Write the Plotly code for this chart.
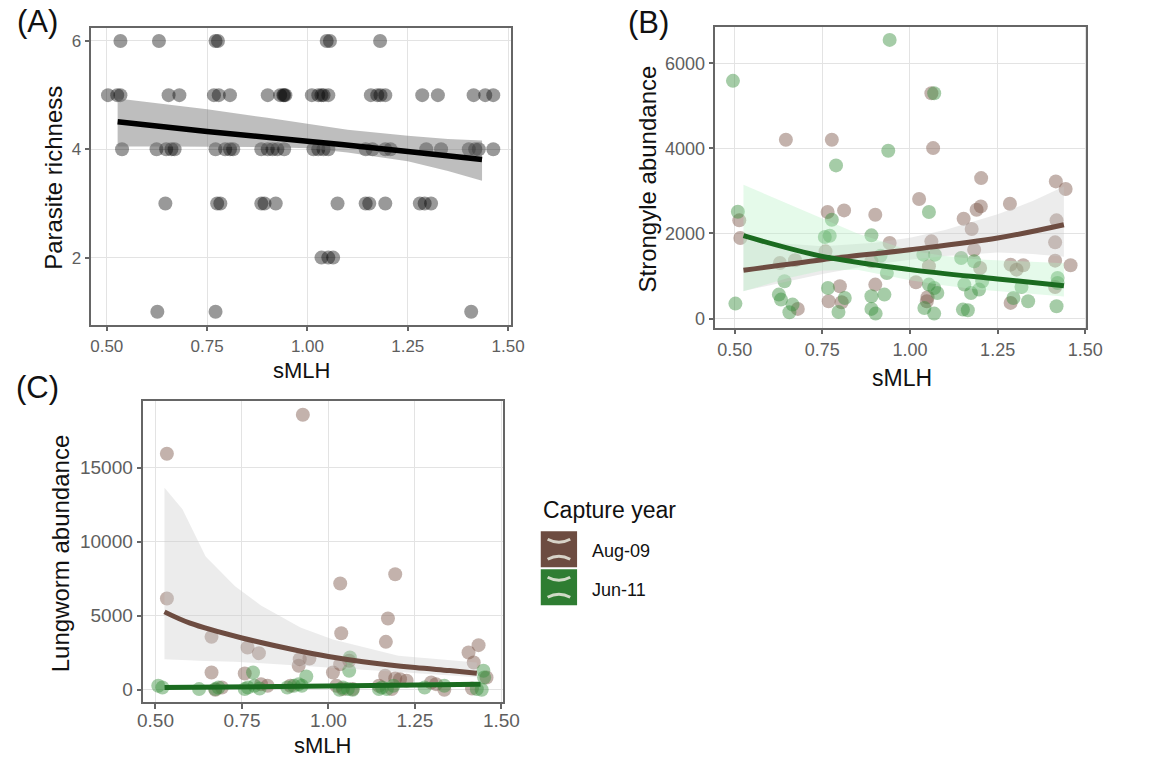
import plotly.graph_objects as go

W, H = 1172, 761

# ---------------- Panel A data ----------------
A_x = [0.534, 0.630, 0.771, 0.777, 1.048, 1.056, 1.181,
       0.503, 0.526, 0.534, 0.654, 0.681, 0.767, 0.779, 0.807, 0.901, 0.932, 0.940, 0.942, 0.945,
       1.011, 1.027, 1.035, 1.040, 1.052, 1.158, 1.174, 1.182, 1.194, 1.286, 1.325, 1.414, 1.443, 1.463,
       0.538, 0.624, 0.648, 0.661, 0.669, 0.771, 0.795, 0.807, 0.815, 0.885, 0.901, 0.913, 0.925, 0.942,
       1.015, 1.027, 1.040, 1.052, 1.145, 1.162, 1.194, 1.207, 1.296, 1.333, 1.402, 1.418, 1.427, 1.463,
       0.646, 0.775, 0.783, 0.885, 0.893, 0.921, 1.075, 1.145, 1.154, 1.194, 1.280, 1.292, 1.308,
       1.035, 1.052, 1.064,
       0.626, 0.771, 1.408]
A_y = [6, 6, 6, 6, 6, 6, 6,
       5, 5, 5, 5, 5, 5, 5, 5, 5, 5, 5, 5, 5,
       5, 5, 5, 5, 5, 5, 5, 5, 5, 5, 5, 5, 5, 5,
       4, 4, 4, 4, 4, 4, 4, 4, 4, 4, 4, 4, 4, 4,
       4, 4, 4, 4, 4, 4, 4, 4, 4, 4, 4, 4, 4, 4,
       3, 3, 3, 3, 3, 3, 3, 3, 3, 3, 3, 3, 3,
       2, 2, 2,
       1, 1, 1]
A_fit_x = [0.527, 0.75, 1.0, 1.25, 1.435]
A_fit_y = [4.51, 4.33, 4.15, 3.96, 3.81]
A_band_x = [0.527, 0.65, 0.75, 0.9, 1.0, 1.1, 1.25, 1.35, 1.435]
A_hi = [4.94, 4.83, 4.74, 4.58, 4.47, 4.36, 4.25, 4.19, 4.16]
A_lo = [4.05, 4.05, 4.05, 4.04, 4.02, 3.94, 3.78, 3.60, 3.42]

# ---------------- Panel B data ----------------
B_aug_x = [0.646, 0.777, 1.066, 1.061, 0.513, 0.516, 0.629, 0.672, 0.680, 0.765, 0.812, 0.759, 0.768,
           0.800, 0.805, 0.901, 0.890, 0.901, 0.942, 1.026, 1.017, 1.061, 1.054, 1.050, 1.048,
           1.153, 1.176, 1.183, 1.190, 1.202, 1.203, 1.200, 1.285, 1.287, 1.287, 1.304, 1.323,
           1.416, 1.444, 1.418, 1.414, 1.414, 1.414, 1.458]
B_aug_y = [4201, 4201, 4006, 5296, 2308, 1893, 1306, 1369, 227, 2503, 2542, 1580, 407,
           759, 383, 2441, 1346, 798, 1776, 2808, 853, 1815, 1228, 501, 407,
           2347, 2104, 1619, 2558, 2636, 3301, 1189, 2699, 368, 1267, 1150, 1252,
           3223, 3043, 2308, 1791, 1361, 743, 1252]
B_jun_x = [0.495, 0.942, 0.502, 0.509, 0.938, 0.789, 1.069, 1.054, 0.777, 0.757, 0.771, 0.890, 0.916,
           0.934, 0.927, 0.890, 0.890, 0.902, 0.642, 0.626, 0.632, 0.656, 0.665, 0.766, 0.796, 0.814,
           1.038, 1.071, 1.054, 1.069, 1.078, 1.041, 1.069, 1.146, 1.155, 1.151, 1.165, 1.174, 1.183,
           1.197, 1.206, 1.295, 1.318, 1.337, 1.421, 1.418, 1.421]
B_jun_y = [5586, 6548, 352, 2511, 3943, 3599, 5296, 2503, 2323, 1917, 1948, 1956, 1478,
           1072, 563, 524, 227, 117, 876, 563, 446, 149, 328, 720, 156, 485,
           1502, 1502, 798, 720, 602, 250, 117, 1424, 798, 211, 196, 602, 1346,
           681, 876, 485, 743, 407, 954, 290, 837]
B_fit_x = [0.525, 0.75, 1.0, 1.25, 1.439]
B_aug_fit = [1134, 1385, 1620, 1893, 2206]
B_aug_band_x = [0.525, 0.65, 0.75, 0.9, 1.0, 1.1, 1.25, 1.35, 1.439]
B_aug_hi = [1900, 1760, 1700, 1780, 1900, 2080, 2450, 2760, 3106]
B_aug_lo = [650, 870, 1050, 1270, 1385, 1470, 1550, 1520, 1450]
B_jun_fit = [1948, 1463, 1150, 931, 774]
B_jun_band_x = [0.525, 0.65, 0.75, 0.85, 1.0, 1.1, 1.2, 1.32, 1.439]
B_jun_hi = [3145, 2700, 2350, 2000, 1600, 1470, 1390, 1340, 1300]
B_jun_lo = [640, 950, 1130, 1150, 900, 780, 680, 600, 520]

# ---------------- Panel C data ----------------
C_aug_x = [0.533, 0.926, 0.533, 0.662, 0.766, 0.799, 0.662, 0.758, 1.034, 1.037, 1.193, 1.172, 1.166,
           1.405, 1.434, 1.420, 0.917, 0.914, 0.945, 1.013, 1.034, 1.060, 1.164, 1.193, 1.207,
           1.457, 1.415, 0.673, 0.692, 0.805, 0.824, 0.890, 1.023, 1.042, 1.070, 1.146, 1.183,
           1.297, 1.311, 1.335, 1.226]
C_aug_y = [15945, 18577, 6162, 3576, 2856, 2474, 1169, 1102, 7174, 3823, 7804, 4813, 3238,
           2519, 3014, 1844, 2069, 1619, 2114, 1169, 1732, 1957, 944, 765, 720,
           832, 90, 0, 157, 382, 270, 270, 270, 45, 45, 270, 45,
           495, 382, 0, 607]
C_jun_x = [1.062, 1.060, 0.782, 0.936, 1.448, 1.450, 0.508, 0.520, 0.626, 0.673, 0.682, 0.758, 0.767,
           0.786, 0.801, 0.881, 0.900, 0.914, 0.923, 1.032, 1.042, 1.056, 1.070, 1.146, 1.155,
           1.169, 1.188, 1.278, 1.335, 1.429, 1.443]
C_jun_y = [2182, 1282, 1169, 900, 1282, 832, 270, 157, 45, 45, 157, 45, 157,
           270, 90, 157, 270, 382, 270, 0, 157, 45, 0, 45, 157,
           45, 270, 157, 270, 45, 0]
C_aug_fit_x = [0.526, 0.6, 0.75, 0.9, 1.0, 1.1, 1.25, 1.35, 1.429]
C_aug_fit = [5263, 4500, 3500, 2700, 2250, 1900, 1500, 1300, 1124]
C_aug_band_x = [0.526, 0.578, 0.645, 0.73, 0.805, 0.919, 1.013, 1.202, 1.429]
C_aug_hi = [13650, 12200, 9000, 7000, 5700, 4200, 3400, 2300, 1850]
C_aug_lo = [2070, 2000, 1950, 1900, 1800, 1650, 1500, 1200, 850]
C_jun_fit_x = [0.526, 1.0, 1.44]
C_jun_fit = [150, 250, 380]
C_jun_hi = [350, 330, 560]
C_jun_lo = [60, 180, 230]

x_ticks = [0.5, 0.75, 1.0, 1.25, 1.5]
x_ticktext = ["0.50", "0.75", "1.00", "1.25", "1.50"]
C_yticks = [0, 5000, 10000, 15000]
C_ytext = ["0", "5000", "10000", "15000"]
B_yticks = [0, 2000, 4000, 6000]
A_yticks = [2, 4, 6]

BROWN = "#6d4c41"
GREEN = "#2e7d32"
FONT = "Liberation Sans, Arial, sans-serif"

fig = go.Figure()


def band(x, hi, lo, color, xa, ya):
    fig.add_trace(go.Scatter(x=list(x) + list(x)[::-1], y=list(hi) + list(lo)[::-1],
                             fill="toself", fillcolor=color, line=dict(width=0),
                             mode="lines", hoverinfo="skip",
                             showlegend=False, xaxis=xa, yaxis=ya))


def pts(x, y, color, xa, ya):
    fig.add_trace(go.Scatter(x=x, y=y, mode="markers",
                             marker=dict(size=14, color=color, line=dict(width=0)),
                             showlegend=False, xaxis=xa, yaxis=ya))


def fit(x, y, color, xa, ya, w=5):
    fig.add_trace(go.Scatter(x=x, y=y, mode="lines", line=dict(color=color, width=w, shape="spline"),
                             showlegend=False, xaxis=xa, yaxis=ya))


# Panel A
pts(A_x, A_y, "rgba(0,0,0,0.4)", "x", "y")
band(A_band_x, A_hi, A_lo, "rgba(110,110,110,0.45)", "x", "y")
fit(A_fit_x, A_fit_y, "#000000", "x", "y", 5.5)

# Panel B
pts(B_aug_x, B_aug_y, "rgba(121,85,72,0.45)", "x2", "y2")
pts(B_jun_x, B_jun_y, "rgba(56,142,60,0.45)", "x2", "y2")
band(B_aug_band_x, B_aug_hi, B_aug_lo, "rgba(200,200,200,0.35)", "x2", "y2")
band(B_jun_band_x, B_jun_hi, B_jun_lo, "rgba(180,240,195,0.35)", "x2", "y2")
fit(B_fit_x, B_aug_fit, BROWN, "x2", "y2")
fit(B_fit_x, B_jun_fit, "#1b6b20", "x2", "y2")

# Panel C
pts(C_aug_x, C_aug_y, "rgba(121,85,72,0.45)", "x3", "y3")
pts(C_jun_x, C_jun_y, "rgba(56,142,60,0.45)", "x3", "y3")
band(C_aug_band_x, C_aug_hi, C_aug_lo, "rgba(200,200,200,0.35)", "x3", "y3")
band(C_jun_fit_x, C_jun_hi, C_jun_lo, "rgba(180,240,195,0.35)", "x3", "y3")
fit(C_aug_fit_x, C_aug_fit, BROWN, "x3", "y3")
fit(C_jun_fit_x, C_jun_fit, "#1b6b20", "x3", "y3")


def px(v):
    return v / W


def py(v):
    return 1 - v / H


def axis(size, **kw):
    d = dict(showline=True, linecolor="#666666", linewidth=1.5, mirror=True,
             ticks="outside", ticklen=5, tickwidth=1.5, tickcolor="#666666",
             showgrid=True, gridcolor="#e3e3e3", gridwidth=1.2, zeroline=False,
             tickfont=dict(family=FONT, color="#5e5e5e", size=size))
    d.update(kw)
    return d


fig.update_layout(
    width=W, height=H, margin=dict(l=0, r=0, t=0, b=0),
    paper_bgcolor="white", plot_bgcolor="white", showlegend=False,
    font=dict(family=FONT),
    xaxis=axis(17, domain=[px(87), px(515)], range=[0.4616, 1.508], tickvals=x_ticks,
               ticktext=x_ticktext, anchor="y"),
    yaxis=axis(17, domain=[py(325), py(28)], range=[0.764, 6.24], tickvals=A_yticks, anchor="x"),
    xaxis2=axis(18, domain=[px(723), px(1101)], range=[0.445, 1.503], tickvals=x_ticks,
                ticktext=x_ticktext, anchor="y2"),
    yaxis2=axis(18, domain=[py(328), py(27)], range=[-211, 6852], tickvals=B_yticks,
                ticktext=[str(v) for v in B_yticks], anchor="x2"),
    xaxis3=axis(19, domain=[px(140), px(507)], range=[0.465, 1.506], tickvals=x_ticks,
                ticktext=x_ticktext, anchor="y3", ticklabelstandoff=-5),
    yaxis3=axis(19, domain=[py(703), py(402)], range=[-830, 19474], tickvals=C_yticks,
                ticktext=C_ytext, anchor="x3"),
)


def text(s, x, y, size, angle=0, xanchor="center", color="#111111"):
    fig.add_annotation(text=s, x=px(x), y=py(y), xref="paper", yref="paper", showarrow=False,
                       xanchor=xanchor, yanchor="middle", textangle=angle,
                       font=dict(family=FONT, size=size, color=color))


# Axis titles
text("sMLH", 301, 371, 22)
text("Parasite richness", 49, 178, 24, angle=-90)
text("sMLH", 913, 378, 23)
text("Strongyle abundance", 654, 179, 24, angle=-90)
text("sMLH", 323, 746, 22)
text("Lungworm abundance", 55, 554, 24, angle=-90)

# Panel labels
text("(A)", 32, 22, 31)
text("(B)", 655, 23, 31)
text("(C)", 32, 388, 31)

# Legend
text("Capture year", 545, 511, 23, xanchor="left")
text("Aug-09", 595, 552, 18, xanchor="left")
text("Jun-11", 595, 591, 18, xanchor="left")

legend_colors = [BROWN, GREEN]
legend_tops = [532, 570]
for col, top in zip(legend_colors, legend_tops):
    fig.add_shape(type="rect", xref="paper", yref="paper",
                  x0=px(545), x1=px(582), y0=py(top + 36), y1=py(top),
                  fillcolor=col, line=dict(width=0))
    up = "M %f,%f Q %f,%f %f,%f" % (px(552), py(top + 8), px(563.5), py(top + 14), px(575), py(top + 8))
    dn = "M %f,%f Q %f,%f %f,%f" % (px(552), py(top + 28), px(563.5), py(top + 22), px(575), py(top + 28))
    for p in (up, dn):
        fig.add_shape(type="path", xref="paper", yref="paper", path=p,
                      line=dict(color="rgba(235,235,225,0.85)", width=3))

fig.write_html("out.html", config={"displayModeBar": False},
               post_script="document.body.style.margin='0';document.body.style.overflow='hidden';")
